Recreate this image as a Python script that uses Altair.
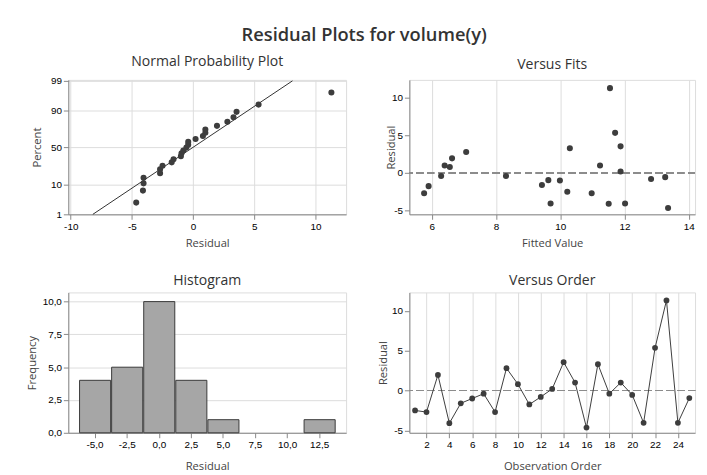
import altair as alt
import pandas as pd
import numpy as np
from statistics import NormalDist

# ---- data ----
order = list(range(1, 26))
residual = [-2.5, -2.7, 1.95, -4.1, -1.6, -1.0, -0.4, -2.7, 2.8, 0.8,
            -1.75, -0.8, 0.2, 3.55, 1.0, -4.65, 3.3, -0.4, 1.0, -0.55,
            -4.05, 5.35, 11.3, -4.05, -0.95]
fitted = [10.22, 5.76, 6.63, 11.51, 9.43, 9.99, 6.29, 10.98, 7.07, 6.56,
          5.9, 12.83, 11.88, 11.88, 6.4, 13.36, 10.3, 8.31, 11.24, 13.27,
          9.7, 11.71, 11.55, 12.02, 9.63]
pct_ticks = [1, 10, 50, 90, 99]
resid_ticks = [-10, -5, 0, 5, 10]
fit_ticks = [6, 8, 10, 12, 14]
hist_ticks = [-5.0, -2.5, 0.0, 2.5, 5.0, 7.5, 10.0, 12.5]
freq_ticks = [0.0, 2.5, 5.0, 7.5, 10.0]
order_ticks = list(range(2, 25, 2))
resid_y_ticks = [-5, 0, 5, 10]

FONT = "Open Sans"
DARK = "#3d3d3d"
TXT = "#444444"

df = pd.DataFrame({"order": order, "residual": residual, "fitted": fitted})

# normal probability plot (median ranks, Minitab style)
nd = NormalDist()
n = len(residual)
srt = sorted(residual)
zs = [nd.inv_cdf((i + 1 - 0.3) / (n + 0.4)) for i in range(n)]
npp = pd.DataFrame({"residual": srt, "z": zs})
mu = float(np.mean(residual))
sd = float(np.std(residual, ddof=1))
z_lo, z_hi = nd.inv_cdf(0.01), nd.inv_cdf(0.99)
fit_line = pd.DataFrame({"residual": [mu + sd * z_lo, mu + sd * z_hi], "z": [z_lo, z_hi]})
pct_z = [nd.inv_cdf(p / 100) for p in pct_ticks]

W1, W2, H1, H2 = 281, 289, 136, 142

PLAIN = "'' + datum.value"
COMMA = "replace(replace(format(datum.value, '.1f'), '.', ','), '\u2212', '-')"
PCT = ("datum.value < -2 ? '1' : datum.value < -1 ? '10' : "
       "datum.value < 1 ? '50' : datum.value < 2 ? '90' : '99'")


def ptitle(t, off):
    return alt.TitleParams(t, fontSize=14.2, font=FONT, fontWeight="normal",
                           color="#333333", offset=off)


def xaxis(title, values, label_expr=PLAIN, ty=30):
    return alt.Axis(title=title, values=values, tickCount=len(values),
                    titleY=ty, titleBaseline="middle",
                    labelExpr=label_expr, labelOverlap=False,
                    titleFontWeight="normal", titleFont=FONT, titleFontSize=11.3,
                    titleColor=TXT)


def yaxis(title, values, h, tx, label_expr=PLAIN):
    return alt.Axis(title=title, values=values, tickCount=len(values),
                    titleX=tx, titleY=h / 2,
                    titleBaseline="middle", titleAngle=270, titleAlign="center",
                    labelExpr=label_expr, labelOverlap=False,
                    titleFontWeight="normal", titleFont=FONT, titleFontSize=11.3,
                    titleColor=TXT)


# --- Normal probability plot ---
xs_n = alt.Scale(domain=[-10.2, 12.5], nice=False, zero=False)
ys_n = alt.Scale(domain=[z_lo, 2.36], nice=False, zero=False)
ax_nx = xaxis("Residual", resid_ticks)
ax_ny = yaxis("Percent", pct_z, H1, -31, PCT)
n_pts = alt.Chart(npp).mark_circle(size=38, color=DARK, opacity=1).encode(
    x=alt.X("residual:Q", scale=xs_n, axis=ax_nx),
    y=alt.Y("z:Q", scale=ys_n, axis=ax_ny),
)
n_line = alt.Chart(fit_line).mark_line(color="#333333", strokeWidth=1).encode(
    x=alt.X("residual:Q", scale=xs_n, axis=ax_nx), y=alt.Y("z:Q", scale=ys_n, axis=ax_ny))
p1 = alt.layer(n_line, n_pts).properties(width=W1, height=H1,
                                         title=ptitle("Normal Probability Plot", 7))

# --- Versus Fits ---
xs_f = alt.Scale(domain=[5.3, 14.2], nice=False, zero=False)
ys_f = alt.Scale(domain=[-5.5, 12.4], nice=False, zero=False)
ax_fy = yaxis("Residual", resid_y_ticks, H1, -18)
f_rule = alt.Chart(df).mark_rule(color="#8c8c8c", strokeDash=[7, 4], strokeWidth=1.2).encode(
    y=alt.datum(0, scale=ys_f, axis=ax_fy))
f_pts = alt.Chart(df).mark_circle(size=38, color=DARK, opacity=1).encode(
    x=alt.X("fitted:Q", scale=xs_f, axis=xaxis("Fitted Value", fit_ticks)),
    y=alt.Y("residual:Q", scale=ys_f, axis=ax_fy),
)
p2 = alt.layer(f_rule, f_pts).properties(width=W2, height=H1, title=ptitle("Versus Fits", 8))

# --- Histogram ---
p3 = alt.Chart(df).mark_bar(color="#a6a6a6", stroke="#3a3a3a", strokeWidth=1).encode(
    x=alt.X("residual:Q", bin=alt.Bin(extent=[-6.25, 13.75], step=2.5, nice=False),
            scale=alt.Scale(domain=[-7.05, 14.6], nice=False, zero=False),
            axis=xaxis("Residual", hist_ticks, COMMA, ty=34)),
    y=alt.Y("count():Q", scale=alt.Scale(domain=[0, 10.7], nice=False),
            axis=yaxis("Frequency", freq_ticks, H2, -36, COMMA)),
).properties(width=W1, height=H2, title=ptitle("Histogram", 4.5))

# --- Versus Order ---
xs_o = alt.Scale(domain=[0.5, 25.5], nice=False, zero=False)
ys_o = alt.Scale(domain=[-5.3, 12.3], nice=False, zero=False)
ax_oy = yaxis("Residual", resid_y_ticks, H2, -26)
o_rule = alt.Chart(df).mark_rule(color="#8c8c8c", strokeDash=[7, 4], strokeWidth=1.2).encode(
    y=alt.datum(0, scale=ys_o, axis=ax_oy))
o_line = alt.Chart(df).mark_line(color=DARK, strokeWidth=1,
                                 point=alt.OverlayMarkDef(filled=True, size=34, color=DARK)).encode(
    x=alt.X("order:Q", scale=xs_o, axis=xaxis("Observation Order", order_ticks, ty=34)),
    y=alt.Y("residual:Q", scale=ys_o, axis=ax_oy),
)
p4 = alt.layer(o_rule, o_line).properties(width=W2, height=H2, title=ptitle("Versus Order", 4.5))

chart = alt.concat(p1, p2, p3, p4, columns=2, spacing={"row": 79, "column": 64},
                   bounds="flush").properties(
    title=alt.TitleParams("Residual Plots for volume(y)", fontSize=18.5, font=FONT,
                          fontWeight=600, color="#333333", anchor="middle", dx=3, offset=10),
    padding={"left": 18, "top": 15, "right": 2, "bottom": 2},
).configure_view(stroke="#9a9a9a", strokeWidth=1.2
).configure_axis(
    grid=True, gridColor="#e4e4e4", gridWidth=1, domain=False,
    tickColor="#8a8a8a", tickSize=3, labelFont=FONT, labelFontSize=9.5,
    labelColor=TXT, labelPadding=2, titleFont=FONT, titleFontSize=11.3,
    titleFontWeight="normal", titleColor=TXT,
).configure(background="white")

chart.save("out.html", embed_options={"renderer": "svg", "actions": False})
